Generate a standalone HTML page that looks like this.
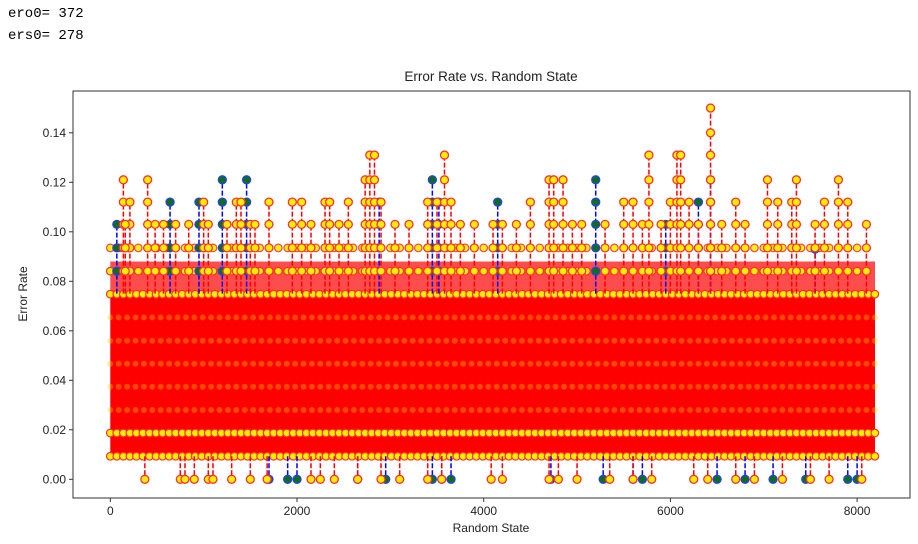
<!DOCTYPE html>
<html><head><meta charset="utf-8"><style>
body{margin:0;background:#fff;width:918px;height:544px;overflow:hidden;font-family:"Liberation Sans",sans-serif}
pre{margin:0;position:absolute;left:8px;font-family:"Liberation Mono",monospace;font-size:14px;color:#000}
</style></head><body>
<pre style="top:6px">ero0= 372</pre>
<pre style="top:28px">ers0= 278</pre>
<svg id="chart" width="918" height="544" style="position:absolute;left:0;top:0" xmlns="http://www.w3.org/2000/svg">
<text x="491" y="81" font-size="13.5" text-anchor="middle" fill="#222">Error Rate vs. Random State</text>
<text x="491" y="532" font-size="12" text-anchor="middle" fill="#222">Random State</text>
<text transform="translate(27,294) rotate(-90)" font-size="12" text-anchor="middle" fill="#222">Error Rate</text>
<g id="plot"></g>
<rect x="73" y="91" width="837" height="407" fill="none" stroke="#333" stroke-width="1"/>
</svg>
<script>
const xTicks=[0,2000,4000,6000,8000];
const yTicks=[0,0.02,0.04,0.06,0.08,0.10,0.12,0.14];
const bandRange=[0,8192];
const bandLevels=[0.0093,0.0187,0.028,0.0374,0.0467,0.056,0.0654,0.0748];
const redPeakStates=[140,210,400,160,480,570,700,840,1000,1050,1250,1350,1400,1500,1550,1700,1950,2050,2150,2300,2350,2450,2550,2730,2780,2830,2900,3050,3200,3400,3500,3580,3650,3750,3900,4100,4200,4350,4500,4700,4750,4850,4950,5050,5300,5500,5600,5700,5770,5900,6000,6070,6110,6200,6300,6430,6550,6700,6800,7040,7150,7300,7350,7550,7650,7800,7900,8100];
const redPeakValues=[.121,.112,.121,.103,.103,.103,.103,.103,.112,.103,.103,.112,.112,.103,.103,.112,.112,.112,.103,.112,.112,.103,.112,.121,.131,.131,.112,.103,.103,.112,.112,.131,.112,.103,.103,.103,.103,.103,.112,.121,.121,.121,.103,.103,.103,.112,.112,.103,.131,.103,.112,.131,.131,.112,.103,.150,.103,.112,.103,.121,.112,.112,.121,.103,.112,.121,.112,.103];
const redZeroStates=[370,750,800,900,1050,1100,1300,1500,1680,2150,2250,2400,2650,2900,3100,3400,3550,4080,4200,4700,4800,5000,5350,5600,5800,6250,6400,6700,6900,7200,7500,7700,8050];
const bluePeakStates=[70,640,950,1200,1460,3450,3520,4150,5200,6300,6430,7550,2880,5950];
const bluePeakValues=[.103,.112,.112,.121,.121,.121,.112,.112,.121,.112,.121,.093,.112,.103];
const blueZeroStates=[1700,1900,2000,2650,2950,3450,3550,3650,4720,5280,5600,5700,6500,6800,7100,7450,7900,8000];

const X=v=>110.3+v*0.09335;
const Y=v=>479.3-v*2475;
const NS='http://www.w3.org/2000/svg';
const g=document.getElementById('plot');
function mk(t,a){const e=document.createElementNS(NS,t);for(const k in a)e.setAttribute(k,a[k]);g.appendChild(e);return e;}

xTicks.forEach(t=>{
  const l=mk('line',{x1:X(t),x2:X(t),y1:498,y2:502,stroke:'#333'});
  
  
  const s=mk('text',{x:X(t),y:515,'font-size':12,'text-anchor':'middle',fill:'#222'});s.textContent=t;
  
  
});
yTicks.forEach(t=>{
  const l=mk('line',{x1:69,x2:73,y1:Y(t),y2:Y(t),stroke:'#333'});
  
  
  const s=mk('text',{x:66,y:Y(t)+4,'font-size':12,'text-anchor':'end',fill:'#222'});s.textContent=t.toFixed(2);
  
  
});

const bx0=X(bandRange[0]),bx1=X(bandRange[1]);
const band=mk('rect',{x:bx0,y:Y(0.0748),width:bx1-bx0,height:Y(0.0093)-Y(0.0748),fill:'#ff0000'});


const band2=mk('rect',{x:bx0,y:Y(0.088),width:bx1-bx0,height:Y(0.0748)-Y(0.088),fill:'#ff2020',opacity:0.8});



function spike(s,v,line,face,edge,name){
  const base=v>0.05?0.075:0.0093;
  const l=mk('line',{x1:X(s),x2:X(s),y1:Y(base),y2:Y(v),stroke:line,'stroke-width':1.5,'stroke-dasharray':'5,2'});
  
  
  const lv=v>0.05?[0.0841,0.0935,0.103,0.112,0.121,0.131,0.14].filter(x=>x<v-0.001):[];
  lv.concat([v]).forEach(y=>{
    const c=mk('circle',{cx:X(s),cy:Y(y),r:4,fill:face,stroke:edge,'stroke-width':1.3});
    
    
  });
}
[0.0093,0.0187,0.0748,0.0841,0.0935].forEach((lv,i)=>{
  for(let s=0;s<=8192;s+=(i>=3?100:70)){
    const c=mk('circle',{cx:X(s),cy:Y(lv),r:3.8,fill:'#ffee00',stroke:'#ff3030','stroke-width':1.2,opacity:i==4?0.9:1});
    
    
  }
});
[0.028,0.0374,0.0467,0.056,0.0654].forEach(lv=>{
  for(let s=0;s<=8192;s+=90){
    const c=mk('circle',{cx:X(s),cy:Y(lv),r:3,fill:'#ffcc00',opacity:0.35});
    
    
  }
});
bluePeakStates.forEach((s,i)=>spike(s,bluePeakValues[i],'#0000ff','#107010','#2040ff','blue-peak'));
blueZeroStates.forEach(s=>spike(s,0,'#0000ff','#107010','#2040ff','blue-zero'));
redPeakStates.forEach((s,i)=>spike(s,redPeakValues[i],'#ff0000','#ffee00','#ff3030','red-peak'));
redZeroStates.forEach(s=>spike(s,0,'#ff0000','#ffee00','#ff3030','red-zero'));
</script>
</body></html>
